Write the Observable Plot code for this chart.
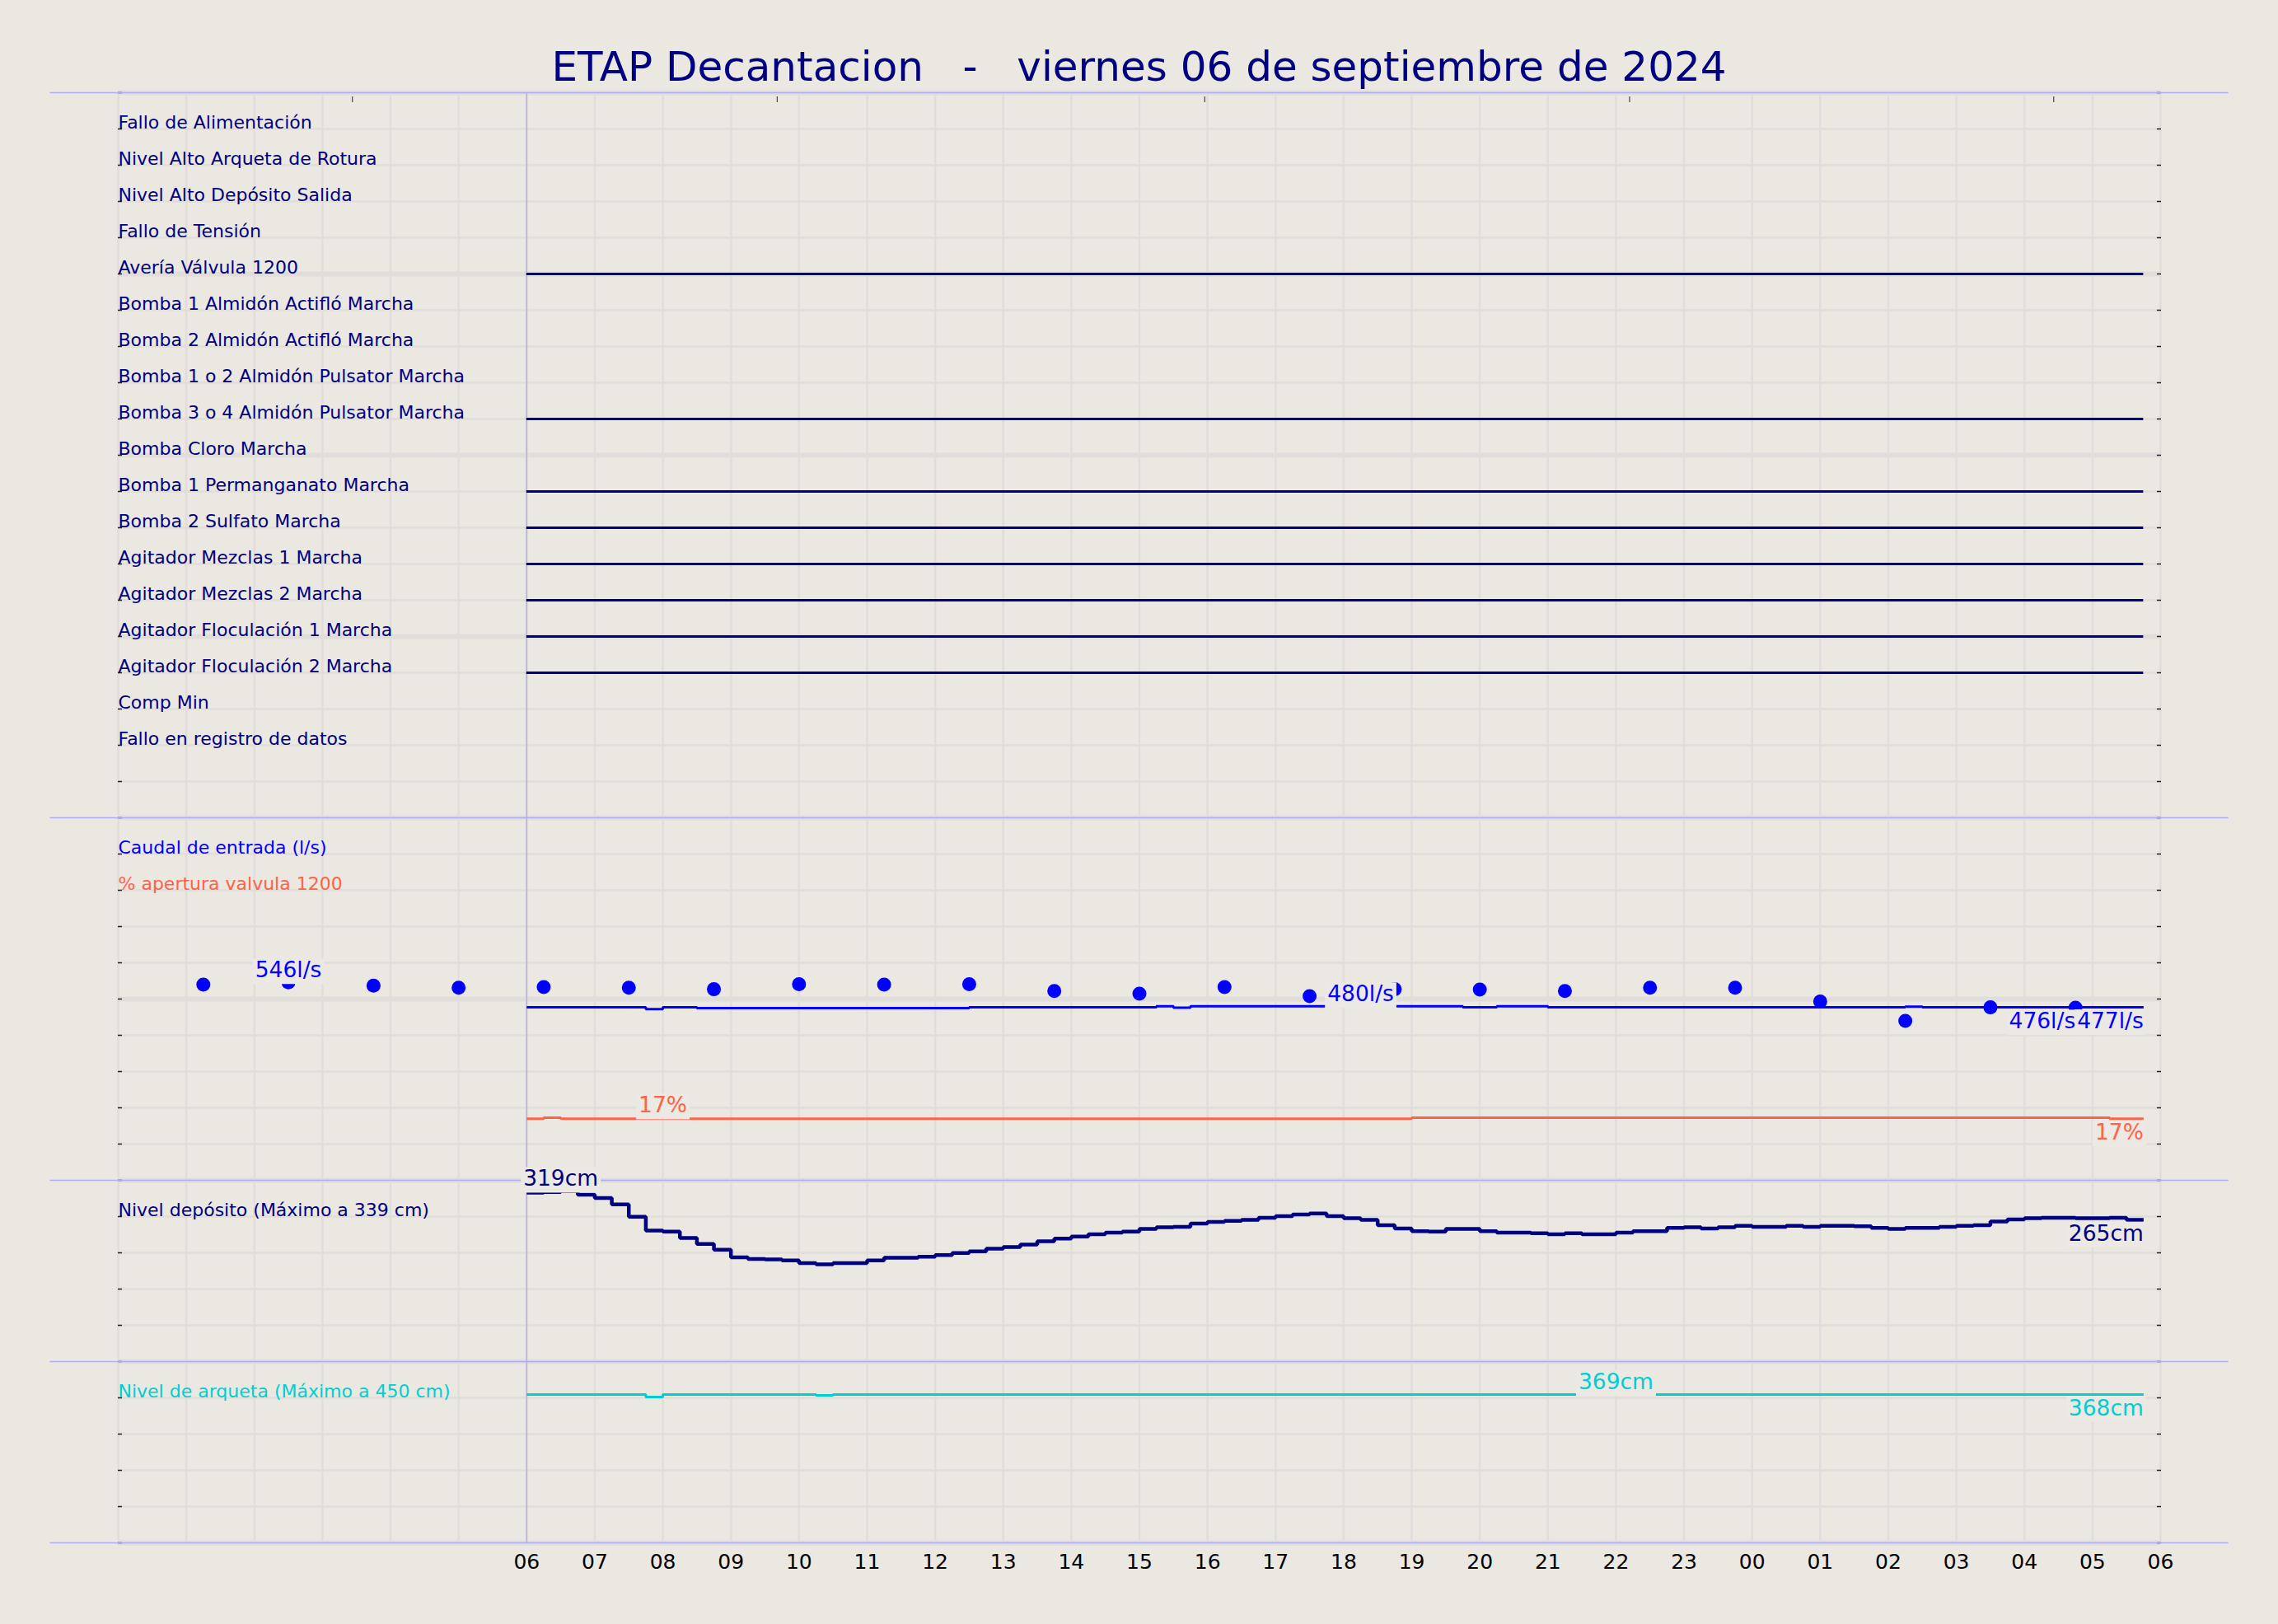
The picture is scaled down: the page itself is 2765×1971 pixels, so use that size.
<!DOCTYPE html>
<html>
<head>
<meta charset="utf-8">
<script src="https://cdn.jsdelivr.net/npm/d3@7"></script>
<script src="https://cdn.jsdelivr.net/npm/@observablehq/plot@0.6"></script>
<style>
  html, body { margin: 0; padding: 0; background: #ebe7e1; overflow: hidden; }
  #titulo {
    width: 2765px; height: 100px; box-sizing: border-box; padding-top: 56px;
    font-family: "DejaVu Sans"; font-size: 50px; line-height: 50px;
    color: #000080; text-align: center; white-space: pre;
  }
  #grafico svg { display: block; }
</style>
</head>
<body>
<div id="titulo">ETAP Decantacion   -   viernes 06 de septiembre de 2024</div>
<div id="grafico"></div>
<script>
// ---------------- DATA ----------------
const filas = [
  "Fallo de Alimentación", "Nivel Alto Arqueta de Rotura", "Nivel Alto Depósito Salida",
  "Fallo de Tensión", "Avería Válvula 1200", "Bomba 1 Almidón Actifló Marcha",
  "Bomba 2 Almidón Actifló Marcha", "Bomba 1 o 2 Almidón Pulsator Marcha",
  "Bomba 3 o 4 Almidón Pulsator Marcha", "Bomba Cloro Marcha", "Bomba 1 Permanganato Marcha",
  "Bomba 2 Sulfato Marcha", "Agitador Mezclas 1 Marcha", "Agitador Mezclas 2 Marcha",
  "Agitador Floculación 1 Marcha", "Agitador Floculación 2 Marcha", "Comp Min",
  "Fallo en registro de datos"
];
const estado = [0,0,0,0,1,0,0,0,1,0,1,1,1,1,1,1,0,0];

const etiquetasSeries = [
  "Caudal de entrada (l/s)", "% apertura valvula 1200",
  "Nivel depósito (Máximo a 339 cm)", "Nivel de arqueta (Máximo a 450 cm)"
];

const inicio = 6;      // 06:00
const paso = 0.25;     // cada 15 min

const deposito = [
  316,317,319,312,306,294,271,245,243,231,
  220,209,195,192,191,189,184,182,184,184,
  189,194,194,196,199,203,206,211,214,219,
  225,230,234,238,241,243,248,251,252,258,
  261,263,265,269,272,275,277,272,268,265,
  255,249,244,243,248,248,244,241,241,240,
  238,240,238,238,241,244,244,250,251,249,
  251,254,252,252,254,252,254,254,253,250,
  248,250,250,252,254,255,262,266,268,269,
  269,268,268,269,265,265
];
const caudal = [
  477,477,477,477,477,477,477,472,477,477,
  475,475,475,475,475,475,475,475,475,475,
  475,475,475,475,475,475,477,477,477,477,
  477,477,477,477,477,477,477,480,476,480,
  480,480,480,480,480,480,480,480,480,480,
  480,480,480,480,480,477,477,480,480,480,
  477,477,477,477,477,477,477,477,477,477,
  477,477,477,477,477,477,477,477,477,477,
  477,479,477,477,477,477,477,477,477,477,
  477,477,477,477,477,477
];
const apertura = [
  17,17.3,17,17,17,17,17,17,17,17,
  17,17,17,17,17,17,17,17,17,17,
  17,17,17,17,17,17,17,17,17,17,
  17,17,17,17,17,17,17,17,17,17,
  17,17,17,17,17,17,17,17,17,17,
  17,17,17.3,17.3,17.3,17.3,17.3,17.3,17.3,17.3,
  17.3,17.3,17.3,17.3,17.3,17.3,17.3,17.3,17.3,17.3,
  17.3,17.3,17.3,17.3,17.3,17.3,17.3,17.3,17.3,17.3,
  17.3,17.3,17.3,17.3,17.3,17.3,17.3,17.3,17.3,17.3,
  17.3,17.3,17.3,17,17,17
];
const arqueta = [
  368,368,368,368,368,368,368,362,368,368,
  368,368,368,368,368,368,368,366,368,368,
  368,368,368,368,368,368,368,368,368,368,
  368,368,368,368,368,368,368,368,368,368,
  368,368,368,368,368,368,368,368,368,368,
  368,368,368,368,368,368,368,368,368,368,
  368,368,368,368,369,368,368,368,368,368,
  368,368,368,368,368,368,368,368,368,368,
  368,368,368,368,368,368,368,368,368,368,
  368,368,368,368,368,368
];
// puntos de caudal (cada 1 h 15 min desde las 01:15)
const caudalPuntos = [540,546,537,531,533,531,527,541,540,541,522,515,533,508,527,526,522,531,531,493,440,477,476];
const pasoPuntos = 1.25;

const horasEje = d3.range(6, 31);            // 06 ... 06
const marcasSuperiores = [3.44, 9.68, 15.96, 22.2, 28.43];
// horas donde se sitúan las etiquetas de máximo
const horaMaxPuntos = 2.5, horaMaxCaudal = 18.25, horaMaxApertura = 8, horaMaxDeposito = 6.5, horaMaxArqueta = 22;

const maxCaudal = 1000, maxApertura = 100, maxDeposito = 339, maxArqueta = 450;

// ---------------- LAYOUT (bandas del eje y) ----------------
const yCaudal = v => 10 + v / maxCaudal * 10;
const yApertura = v => 10 + v / maxApertura * 10;
const yDeposito = v => 5 + v / maxDeposito * 5;
const yArqueta = v => v / maxArqueta * 5;

const navy = "#000080", azul = "#0000ff", tomate = "#ff6347", turquesa = "#00ced1";
const rejilla = "#e1dddb", morado = "#adadfc", caja = "#ece8e3";

const serie = (arr) => arr.map((v, i) => ({t: inicio + i * paso, v}));
const tFin = inicio + (deposito.length - 1) * paso;
const puntos = caudalPuntos.map((v, i) => ({t: (i + 1) * pasoPuntos, v}));

const filasActivas = filas.map((f, i) => ({f, i, on: estado[i]})).filter(d => d.on);

const last = a => a[a.length - 1];
const anotArriba = [
  {x: horaMaxPuntos, y: yCaudal(d3.max(caudalPuntos)), text: `${d3.max(caudalPuntos)}l/s`, c: azul},
  {x: horaMaxCaudal, y: yCaudal(d3.max(caudal)), text: `${d3.max(caudal)}l/s`, c: azul},
  {x: horaMaxApertura, y: yApertura(d3.max(apertura)), text: `${Math.round(d3.max(apertura))}%`, c: tomate},
  {x: horaMaxDeposito, y: yDeposito(d3.max(deposito)), text: `${d3.max(deposito)}cm`, c: navy},
  {x: horaMaxArqueta, y: yArqueta(d3.max(arqueta)), text: `${d3.max(arqueta)}cm`, c: turquesa}
];
const anotAbajo = [
  {x: last(puntos).t, y: yCaudal(last(caudalPuntos)), text: `${last(caudalPuntos)}l/s`, c: azul},
  {x: tFin, y: yCaudal(last(caudal)), text: `${last(caudal)}l/s`, c: azul},
  {x: tFin, y: yApertura(last(apertura)), text: `${Math.round(last(apertura))}%`, c: tomate},
  {x: tFin, y: yDeposito(last(deposito)), text: `${last(deposito)}cm`, c: navy},
  {x: tFin, y: yArqueta(last(arqueta)), text: `${last(arqueta)}cm`, c: turquesa}
];

const pad2 = h => String(h % 24).padStart(2, "0");

const chart = Plot.plot({
  width: 2765, height: 1871,
  marginTop: 12, marginBottom: 99, marginLeft: 143, marginRight: 143,
  style: {background: "transparent", fontFamily: "DejaVu Sans", overflow: "visible"},
  x: {domain: [0, 30]},
  y: {domain: [0, 40]},
  color: {type: "identity"},
  marks: [
    // rejilla
    Plot.ruleX(d3.range(0, 31), {stroke: rejilla, strokeWidth: 2.5}),
    Plot.ruleY(d3.range(0, 41), {stroke: rejilla, strokeWidth: 2.5}),
    Plot.ruleY(d3.range(0, 41, 5), {stroke: rejilla, strokeWidth: 6}),
    // marcas de eje
    Plot.axisY({anchor: "left", ticks: d3.range(0, 41), tickSize: 5, dx: 5, tickFormat: () => "", label: null, stroke: "#222", strokeWidth: 1.5}),
    Plot.axisY({anchor: "right", ticks: d3.range(0, 41), tickSize: 5, dx: -5, tickFormat: () => "", label: null, stroke: "#222", strokeWidth: 1.5}),
    Plot.axisX({anchor: "top", ticks: marcasSuperiores, tickSize: 7, dy: 11, tickFormat: () => "", label: null, stroke: "#444", strokeWidth: 1.2}),
    Plot.axisX({anchor: "bottom", ticks: horasEje, tickFormat: pad2, tickSize: 0, tickPadding: 14, fontSize: 25, label: null, fill: "black"}),
    // separadores de paneles
    Plot.ruleY([0, 5, 10, 20, 40], {x1: -1, x2: 31, stroke: morado, strokeWidth: 1.5}),
    Plot.ruleX([inicio], {stroke: morado, strokeWidth: 1.5}),
    // etiquetas de filas
    Plot.text(filas, {x: 0, y: (d, i) => 39 - i, text: d => d, textAnchor: "start", lineAnchor: "bottom", dy: -1, fill: navy, fontSize: 22}),
    Plot.text([etiquetasSeries[0]], {x: 0, y: 19, text: d => d, textAnchor: "start", lineAnchor: "bottom", dy: -1, fill: azul, fontSize: 22}),
    Plot.text([etiquetasSeries[1]], {x: 0, y: 18, text: d => d, textAnchor: "start", lineAnchor: "bottom", dy: -1, fill: tomate, fontSize: 22}),
    Plot.text([etiquetasSeries[2]], {x: 0, y: 9, text: d => d, textAnchor: "start", lineAnchor: "bottom", dy: -1, fill: navy, fontSize: 22}),
    Plot.text([etiquetasSeries[3]], {x: 0, y: 4, text: d => d, textAnchor: "start", lineAnchor: "bottom", dy: -1, fill: turquesa, fontSize: 22}),
    // estados
    Plot.ruleY(filasActivas, {y: d => 39 - d.i, x1: inicio, x2: tFin, stroke: navy, strokeWidth: 3}),
    // caudal
    Plot.dot(puntos, {x: "t", y: d => yCaudal(d.v), r: 8.5, fill: azul}),
    Plot.line(serie(caudal), {x: "t", y: d => yCaudal(d.v), curve: "step-after", stroke: azul, strokeWidth: 3, strokeLinejoin: "miter", strokeLinecap: "butt"}),
    Plot.line(serie(apertura), {x: "t", y: d => yApertura(d.v), curve: "step-after", stroke: tomate, strokeWidth: 3, strokeLinejoin: "miter", strokeLinecap: "butt"}),
    Plot.line(serie(deposito), {x: "t", y: d => yDeposito(d.v), curve: "step-after", stroke: navy, strokeWidth: 4.5, strokeLinejoin: "miter", strokeLinecap: "butt"}),
    Plot.line(serie(arqueta), {x: "t", y: d => yArqueta(d.v), curve: "step-after", stroke: turquesa, strokeWidth: 3, strokeLinejoin: "miter", strokeLinecap: "butt"}),
    // anotaciones
    Plot.text(anotArriba, {x: "x", y: "y", text: "text", fill: "c", textAnchor: "middle", lineAnchor: "bottom", dy: -6, fontSize: 26.5}),
    Plot.text(anotAbajo, {x: "x", y: "y", text: "text", fill: "c", textAnchor: "end", lineAnchor: "top", dy: 6.5, fontSize: 26.5})
  ]
});

document.getElementById("grafico").appendChild(chart);

// cajas de fondo detrás de las anotaciones
const textosAnot = new Set([...anotArriba, ...anotAbajo].map(d => d.text));
const grupos = new Set();
for (const t of chart.querySelectorAll("text")) {
  if (textosAnot.has(t.textContent) && t.getAttribute("transform")) grupos.add(t.parentNode);
}
for (const g of grupos) {
  const texts = [...g.querySelectorAll("text")];
  const first = texts[0];
  for (const t of texts) {
    const b = t.getBBox();
    const r = document.createElementNS("http://www.w3.org/2000/svg", "rect");
    r.setAttribute("x", b.x - 3);
    r.setAttribute("y", b.y + 2);
    r.setAttribute("width", b.width + 6);
    r.setAttribute("height", b.height);
    r.setAttribute("fill", caja);
    r.setAttribute("stroke", "none");
    const tr = t.getAttribute("transform");
    if (tr) r.setAttribute("transform", tr);
    g.insertBefore(r, first);
  }
}
</script>
</body>
</html>
